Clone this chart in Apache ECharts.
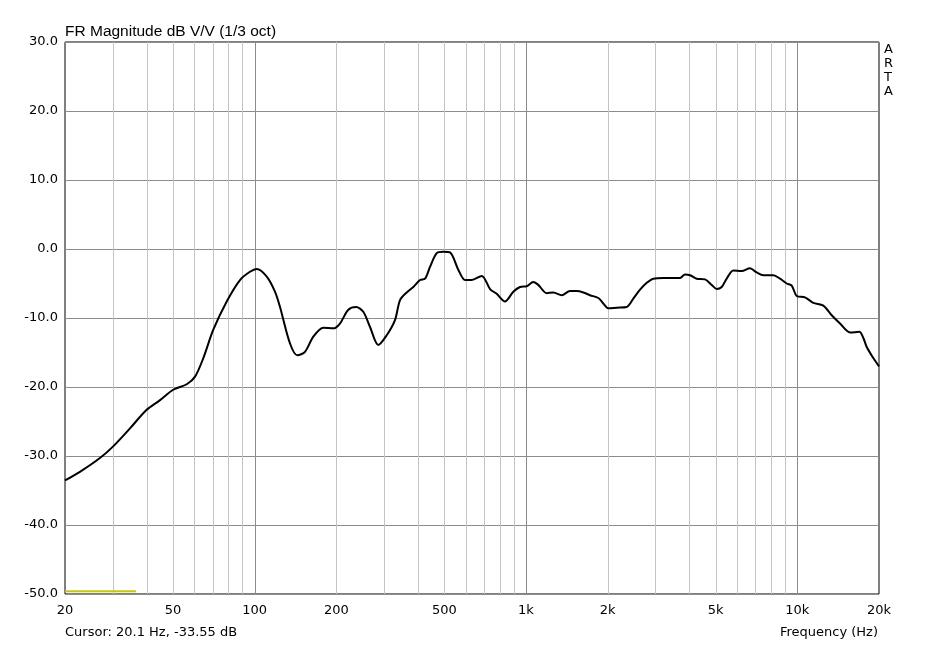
<!DOCTYPE html>
<html><head><meta charset="utf-8">
<script src="https://cdn.jsdelivr.net/npm/echarts@6/dist/echarts.min.js"></script>
<style>html,body{margin:0;padding:0;background:#fff}#c{width:942px;height:645px}</style>
</head><body><div id="c"></div>
<script>
// Frequency (Hz) and magnitude (dB)
var freqs = [20,22.7,26.9,30.1,34.7,40.0,44.8,50.1,56.2,60.3,64.7,70.4,78.9,88.3,96.1,101.8,110.8,118.9,124,135,143.6,153.3,164.5,179.1,194.9,206.2,221.4,236.4,251.4,266.2,285.6,306.6,329,343.4,363.4,384.4,407,424.6,442.8,468.8,496,524.8,563,596,630.8,687,737,780,836.8,897.8,950.6,1006,1064,1110,1192,1261,1354,1453,1538,1627,1722,1848,1927,2011,2160,2351,2486,2632,2786,2946,3208,3491,3696,3855,4023,4258,4568,4834,5045,5264,5491,5809,6237,6692,7084,7492,8158,8636,9140,9536,9950,10672,11452,12470,13390,14368,15642,16922,17510,18022,19056,20000];
var magnitudes = [-33.55,-32.3,-30.3,-28.6,-26.0,-23.3,-21.9,-20.4,-19.6,-18.5,-15.8,-11.7,-7.6,-4.5,-3.3,-2.9,-4.0,-6.2,-8.4,-13.7,-15.4,-14.9,-12.7,-11.4,-11.5,-10.8,-8.8,-8.4,-9.1,-11.3,-13.9,-12.5,-10.3,-7.4,-6.3,-5.5,-4.5,-4.3,-2.6,-0.6,-0.4,-0.5,-3.0,-4.5,-4.5,-3.9,-5.8,-6.5,-7.6,-6.2,-5.5,-5.4,-4.8,-5.2,-6.4,-6.3,-6.7,-6.1,-6.1,-6.3,-6.7,-7.1,-7.9,-8.6,-8.5,-8.4,-7.2,-5.9,-4.9,-4.3,-4.2,-4.2,-4.2,-3.7,-3.8,-4.3,-4.4,-5.2,-5.8,-5.5,-4.3,-3.1,-3.2,-2.8,-3.4,-3.8,-3.8,-4.3,-5.0,-5.3,-6.8,-7.0,-7.8,-8.2,-9.6,-10.8,-12.1,-12.0,-12.9,-14.2,-15.8,-17.0];
// Cursor marker (yellow) segment
var cursorFreqs = [20, 36.5];
var cursorLevels = [-49.6, -49.6];
// Grid lines and tick labels
var minorGridFreqs = [30,40,50,60,70,80,90,200,300,400,500,600,700,800,900,2000,3000,4000,5000,6000,7000,8000,9000];
var majorGridFreqs = [100,1000,10000];
var xTickFreqs = [20,50,100,200,500,1000,2000,5000,10000,20000];
var xTickLabels = ['20','50','100','200','500','1k','2k','5k','10k','20k'];

var FONT = '"DejaVu Sans", sans-serif';
var TITLEFONT = '"Liberation Sans", Arial, sans-serif';
var chart = echarts.init(document.getElementById('c'), null, {renderer:'canvas'});

function gridSeries(list, color, z){
  return {
    type:'custom', silent:true, z:z,
    data: list.map(function(f){return [f];}),
    encode:{x:0},
    renderItem:function(params, api){
      var f = api.value(0);
      var p0 = api.coord([f,-50]), p1 = api.coord([f,30]);
      var x = Math.round(p0[0])+0.5;
      return {type:'line', shape:{x1:x,y1:p0[1],x2:x,y2:p1[1]}, style:{stroke:color,lineWidth:1}};
    }
  };
}

var option = {
  animation:false,
  backgroundColor:'#ffffff',
  grid:{left:65, top:42, right:63, bottom:51, show:true, borderColor:'#000', borderWidth:1, backgroundColor:'transparent'},
  xAxis:{type:'log', logBase:10, min:20, max:20000,
    axisLine:{show:false}, axisTick:{show:false}, axisLabel:{show:false}, splitLine:{show:false}},
  yAxis:{type:'value', min:-50, max:30, interval:10,
    axisLine:{show:false}, axisTick:{show:false},
    axisLabel:{color:'#000', fontFamily:'DejaVu Sans', fontSize:13, margin:7, formatter:function(v){return v.toFixed(1);}},
    splitLine:{show:true, lineStyle:{color:'#8c8c8c', width:1}}},
  graphic:[
    {type:'text', left:65, top:24, style:{text:'FR Magnitude dB V/V (1/3 oct)', fill:'#000', font:'15.5px '+TITLEFONT}},
    {type:'text', left:65, top:626, style:{text:'Cursor: 20.1 Hz, -33.55 dB', fill:'#000', font:'13px '+FONT}},
    {type:'text', right:64, top:626, style:{text:'Frequency (Hz)', fill:'#000', font:'13px '+FONT}},
    {type:'text', left:884, top:43, style:{text:'A', fill:'#000', font:'13px '+FONT}},
    {type:'text', left:884, top:57, style:{text:'R', fill:'#000', font:'13px '+FONT}},
    {type:'text', left:884, top:71, style:{text:'T', fill:'#000', font:'13px '+FONT}},
    {type:'text', left:884, top:85, style:{text:'A', fill:'#000', font:'13px '+FONT}}
  ],
  series:[
    gridSeries(minorGridFreqs, '#c4c4c4', 1),
    gridSeries(majorGridFreqs, '#8c8c8c', 2),
    {
      type:'custom', silent:true, z:3,
      data: xTickFreqs.map(function(f,i){return [f,i];}),
      encode:{x:0},
      renderItem:function(params, api){
        var f = api.value(0), i = api.value(1);
        var p = api.coord([f,-50]);
        return {type:'text', x:p[0], y:p[1]+10, style:{text:xTickLabels[i], fill:'#000', font:'13px '+FONT, textAlign:'center', textVerticalAlign:'top'}};
      }
    },
    {type:'line', z:4, silent:true, symbol:'none', data:cursorFreqs.map(function(f,i){return [f,cursorLevels[i]];}),
      lineStyle:{color:'#c8c800', width:2}},
    {type:'line', z:5, silent:true, symbol:'none', smooth:0.3, data:freqs.map(function(f,i){return [f,magnitudes[i]];}),
      lineStyle:{color:'#000', width:2}}
  ]
};
chart.setOption(option);
</script></body></html>
